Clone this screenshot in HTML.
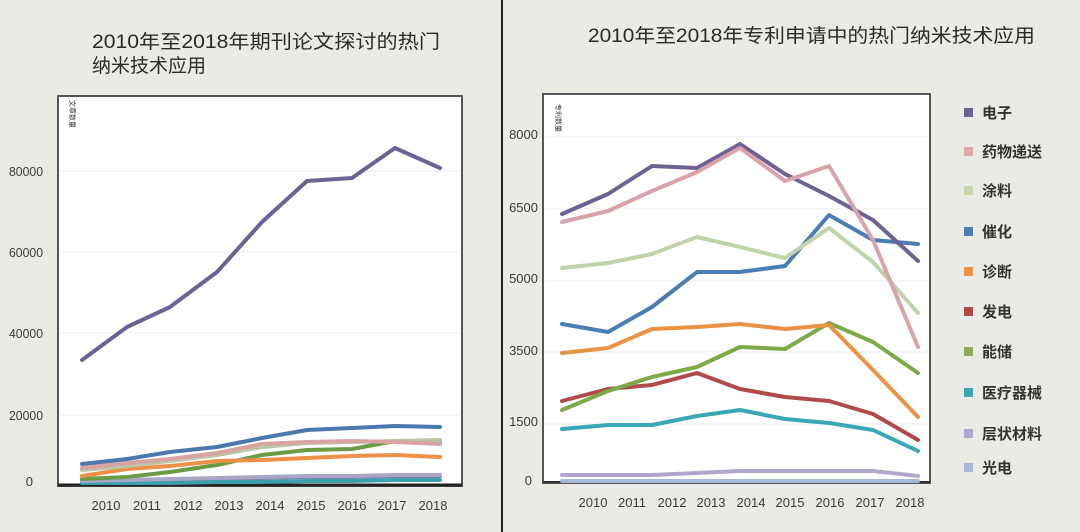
<!DOCTYPE html>
<html><head><meta charset="utf-8"><style>
html,body{margin:0;padding:0;background:#ebebe6;}
svg{display:block;font-family:"Liberation Sans","Noto Sans CJK SC",sans-serif;}
</style></head><body>
<svg width="1080" height="532" viewBox="0 0 1080 532" xmlns="http://www.w3.org/2000/svg">
<rect width="1080" height="532" fill="#ebebe6"/>
<line x1="502" y1="0" x2="502" y2="532" stroke="#222" stroke-width="2"/>
<g fill="#2a2a2a" font-size="19">
<text x="92" y="48" textLength="348" lengthAdjust="spacingAndGlyphs">2010年至2018年期刊论文探讨的热门</text>
<text x="92" y="72" textLength="114" lengthAdjust="spacingAndGlyphs">纳米技术应用</text>
<text x="588" y="42" textLength="447" lengthAdjust="spacingAndGlyphs">2010年至2018年专利申请中的热门纳米技术应用</text>
</g>
<!-- Left chart -->
<rect x="58" y="96" width="404" height="390" fill="#fff" stroke="#555" stroke-width="2"/>
<g stroke="#eee" stroke-width="1">
<line x1="60" y1="171" x2="460" y2="171"/><line x1="60" y1="252" x2="460" y2="252"/>
<line x1="60" y1="333" x2="460" y2="333"/><line x1="60" y1="415" x2="460" y2="415"/>
</g>
<line x1="58" y1="485" x2="462" y2="485" stroke="#222" stroke-width="3"/>
<g font-size="13" fill="#3a3a3a" text-anchor="end">
<text x="43" y="176" textLength="34" lengthAdjust="spacingAndGlyphs">80000</text><text x="43" y="257" textLength="34" lengthAdjust="spacingAndGlyphs">60000</text><text x="43" y="338" textLength="34" lengthAdjust="spacingAndGlyphs">40000</text><text x="43" y="420" textLength="34" lengthAdjust="spacingAndGlyphs">20000</text><text x="33" y="486">0</text>
</g>
<g font-size="13" fill="#3a3a3a" text-anchor="middle">
<text x="106" y="510">2010</text><text x="147" y="510">2011</text><text x="188" y="510">2012</text><text x="229" y="510">2013</text><text x="270" y="510">2014</text><text x="311" y="510">2015</text><text x="352" y="510">2016</text><text x="392" y="510">2017</text><text x="433" y="510">2018</text>
</g>
<text transform="translate(70,100) rotate(90)" font-size="7" fill="#333">文章数量</text>
<g fill="none" stroke-width="4" stroke-linejoin="round" stroke-linecap="round">
<polyline stroke="#7c82a6" points="82,482 127,481 170,480 217,479 262,478 307,477 352,477 395,476 440,476"/>
<polyline stroke="#3aa0ae" points="82,483 127,483 170,483 217,482 262,482 307,481 352,481 395,480 440,480"/>
<polyline stroke="#a9a6c8" points="82,481 127,480 170,479 217,478 262,477 307,476 352,476 395,475 440,475"/>
<polyline stroke="#6a9b45" points="82,479 127,477 170,472 217,465 262,455 307,450 352,449 395,441 440,441"/>
<polyline stroke="#ec9147" points="82,476 127,469 170,466 217,461 262,460 307,458 352,456 395,455 440,457"/>
<polyline stroke="#b9c7a4" points="82,470 127,466 170,461 217,455 262,447 307,443 352,442 395,441 440,440"/>
<polyline stroke="#d9a3a3" points="82,468 127,463 170,459 217,453 262,444 307,442 352,441 395,442 440,444"/>
<polyline stroke="#4b79ad" points="82,464 127,459 170,452 217,447 262,438 307,430 352,428 395,426 440,427"/>
<polyline stroke="#6e6294" points="82,360 127,327 170,307 217,272 262,222 307,181 352,178 395,148 440,168"/>
</g>
<!-- Right chart -->
<rect x="543" y="94" width="387" height="389" fill="#fff" stroke="#555" stroke-width="2"/>
<g stroke="#eee" stroke-width="1">
<line x1="545" y1="137" x2="928" y2="137"/><line x1="545" y1="209" x2="928" y2="209"/>
<line x1="545" y1="281" x2="928" y2="281"/><line x1="545" y1="352" x2="928" y2="352"/><line x1="545" y1="424" x2="928" y2="424"/>
</g>
<line x1="543" y1="482" x2="930" y2="482" stroke="#333" stroke-width="2"/>
<g font-size="13" fill="#3a3a3a" text-anchor="end">
<text x="538" y="139">8000</text><text x="538" y="212">6500</text><text x="538" y="283">5000</text><text x="538" y="355">3500</text><text x="538" y="426">1500</text><text x="532" y="485">0</text>
</g>
<g font-size="13" fill="#3a3a3a" text-anchor="middle">
<text x="593" y="507">2010</text><text x="632" y="507">2011</text><text x="672" y="507">2012</text><text x="711" y="507">2013</text><text x="751" y="507">2014</text><text x="790" y="507">2015</text><text x="830" y="507">2016</text><text x="870" y="507">2017</text><text x="910" y="507">2018</text>
</g>
<text transform="translate(556,104) rotate(90)" font-size="7" fill="#333">专利数量</text>
<g fill="none" stroke-width="4" stroke-linejoin="round" stroke-linecap="round">
<polyline stroke="#a9b8d8" points="562,481 918,481"/>
<polyline stroke="#b0a8cc" points="562,475 652,475 740,471 785,471 873,471 918,476"/>
<polyline stroke="#3aa7b6" points="562,429 608,425 652,425 697,416 740,410 785,419 829,423 873,430 918,451"/>
<polyline stroke="#b04a4a" points="562,401 608,389 652,385 697,373 740,389 785,397 829,401 873,414 918,440"/>
<polyline stroke="#7daa48" points="562,410 608,391 652,377 697,367 740,347 785,349 829,323 873,342 918,373"/>
<polyline stroke="#eb9344" points="562,353 608,348 652,329 697,327 740,324 785,329 829,325 873,370 918,417"/>
<polyline stroke="#4a7db3" points="562,324 608,332 652,307 697,272 740,272 785,266 829,215 873,240 918,244"/>
<polyline stroke="#c1d3a8" points="562,268 608,263 652,254 697,237 740,247 785,258 829,228 873,262 918,313"/>
<polyline stroke="#6e6294" points="562,214 608,194 652,166 697,168 740,144 785,174 829,196 873,220 918,261"/>
<polyline stroke="#d9a3ab" points="562,222 608,211 652,191 697,172 740,148 785,181 829,166 873,240 918,347"/>
</g>
<!-- Legend -->
<g font-size="15" font-weight="bold" fill="#333">
<rect x="964" y="108" width="9" height="9" fill="#6e6294"/><text x="982" y="118">电子</text>
<rect x="964" y="147" width="9" height="9" fill="#e3a7ab"/><text x="982" y="157">药物递送</text>
<rect x="964" y="186" width="9" height="9" fill="#c9d6b0"/><text x="982" y="196">涂料</text>
<rect x="964" y="227" width="9" height="9" fill="#4a7db3"/><text x="982" y="237">催化</text>
<rect x="964" y="267" width="9" height="9" fill="#eb9344"/><text x="982" y="277">诊断</text>
<rect x="964" y="307" width="9" height="9" fill="#b04a4a"/><text x="982" y="317">发电</text>
<rect x="964" y="347" width="9" height="9" fill="#8fa85a"/><text x="982" y="357">能储</text>
<rect x="964" y="388" width="9" height="9" fill="#3aa7b6"/><text x="982" y="398">医疗器械</text>
<rect x="964" y="429" width="9" height="9" fill="#b0a8cc"/><text x="982" y="439">层状材料</text>
<rect x="964" y="463" width="9" height="9" fill="#a9b8d8"/><text x="982" y="473">光电</text>
</g>
</svg>
</body></html>
